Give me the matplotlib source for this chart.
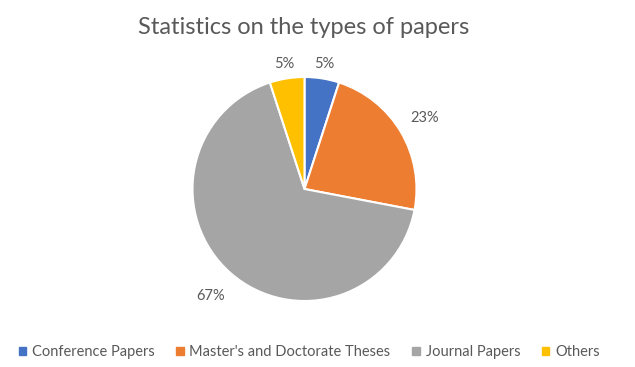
import matplotlib
matplotlib.use("Agg")
import matplotlib.pyplot as plt
from matplotlib.patches import Patch
import numpy as np

categories = ["Conference Papers", "Master's and Doctorate Theses", "Journal Papers", "Others"]
values = [5, 23, 67, 5]
colors = ["#4472C4", "#ED7D31", "#A5A5A5", "#FFC000"]
label_dist = [1.13, 1.25, 1.27, 1.13]

plt.rcParams['font.family'] = ['Lato', 'DejaVu Sans']
txt = "#595959"

fig = plt.figure(figsize=(6.35, 3.67), dpi=100, facecolor="white")
cx, cy, r = 304.5, 367 - 189, 112
ax = fig.add_axes([(cx - r) / 635, (cy - r) / 367, 2 * r / 635, 2 * r / 367])

wedges, _ = ax.pie(values, colors=colors, startangle=90, counterclock=False,
                   wedgeprops=dict(edgecolor="white", linewidth=1.5))
ax.set_xlim(-1, 1)
ax.set_ylim(-1, 1)
ax.set_aspect("equal")
ax.axis("off")

# percentage labels outside the slices
total = sum(values)
for w, v, d in zip(wedges, values, label_dist):
    ang = np.deg2rad((w.theta1 + w.theta2) / 2)
    ax.text(d * np.cos(ang), d * np.sin(ang), f"{round(100 * v / total)}%",
            ha="center", va="center", fontsize=10.5, color=txt)

fig.text(0.478, 0.925, "Statistics on the types of papers", ha="center", va="center",
         fontsize=17, color=txt)

handles = [Patch(facecolor=c, edgecolor=c) for c in colors]
fig.legend(handles, categories, loc="center", bbox_to_anchor=(0.487, 0.04), ncol=4,
           frameon=False, fontsize=10.5, labelcolor=txt, handlelength=0.5, handleheight=0.5,
           handletextpad=0.4, columnspacing=1.5)

fig.savefig("out.png", dpi=100, facecolor="white")
